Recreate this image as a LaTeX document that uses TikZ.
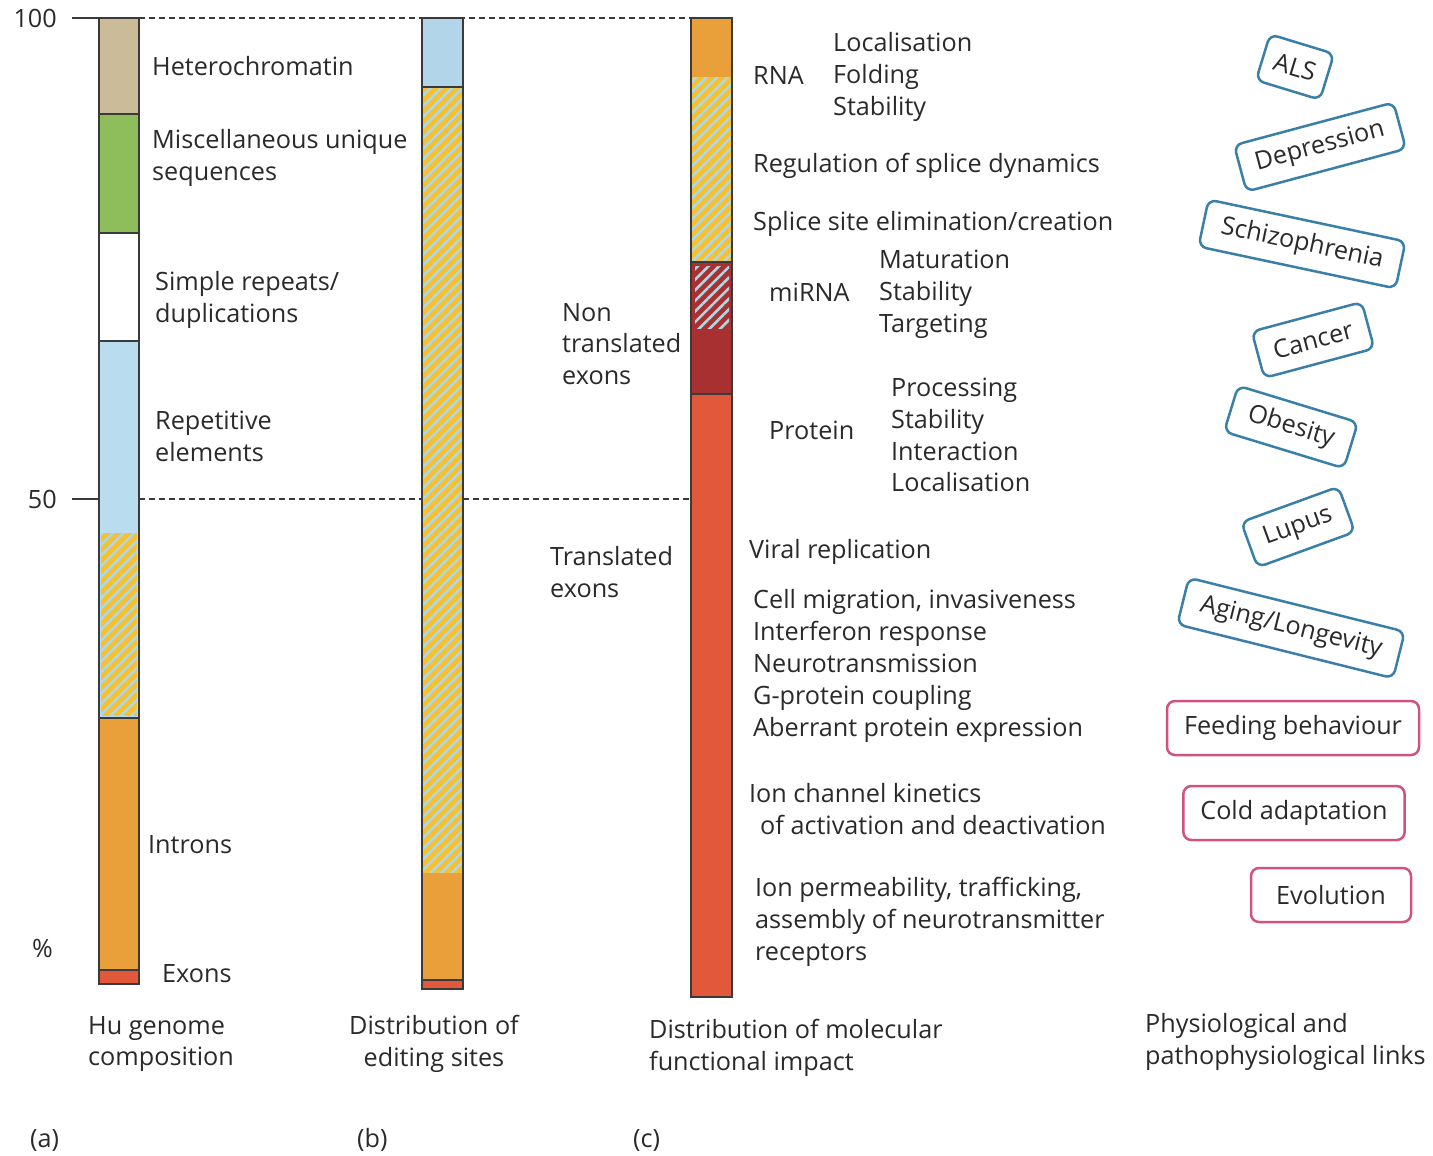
\documentclass[tikz,border=0pt]{standalone}
\usepackage{fontspec}
\setmainfont{Open Sans}
\usetikzlibrary{patterns.meta}
\definecolor{txt}{HTML}{2A2A2A}
\definecolor{outl}{HTML}{3A3A3A}
\definecolor{tan}{HTML}{CBBB98}
\definecolor{grn}{HTML}{8EBE5C}
\definecolor{lblue}{HTML}{B9DCEF}
\definecolor{bblue}{HTML}{B3D5EA}
\definecolor{hyel}{HTML}{F6C030}
\definecolor{hblue}{HTML}{ADD8E6}
\definecolor{orng}{HTML}{E9A03A}
\definecolor{rexon}{HTML}{E2583A}
\definecolor{dred}{HTML}{A83030}
\definecolor{tagblue}{HTML}{3A7FA8}
\definecolor{tagpink}{HTML}{D0537A}
\tikzset{
  lbl/.style={anchor=west, inner sep=0pt, text=txt, align=left,
    font=\fontsize{25.3}{32}\selectfont},
  hatchfill/.style={pattern={Lines[angle=45,distance=7.5bp,line width=2.6bp]}, pattern color=hblue},
  barline/.style={draw=outl, line width=2.2bp},
  divline/.style={draw=outl, line width=1.8bp},
  guide/.style={draw=outl, line width=1.5bp, dash pattern=on 6bp off 4bp},
  tick/.style={draw=outl, line width=1.8bp},
  tagb/.style={draw=tagblue, line width=2.5bp, rounded corners=8bp, text=txt,
    font=\fontsize{25.3}{28}\selectfont, minimum height=48bp, inner xsep=16bp, fill=white},
  tagp/.style={tagb, draw=tagpink, minimum height=54bp, inner xsep=17bp}
}
\begin{document}
\begin{tikzpicture}[x=1bp,y=-1bp]
\useasboundingbox[fill=white] (0,0) rectangle (1433,1155);

% ---------- guide lines ----------
\draw[tick] (72,18) -- (99,18);
\draw[tick] (72,499) -- (99,499);
\draw[guide] (139,18) -- (691,18);
\draw[guide] (139,499) -- (422,499);
\draw[guide] (463,499) -- (691,499);

% ---------- bar (a) ----------
\fill[tan] (99,18) rectangle (139,114);
\fill[grn] (99,114) rectangle (139,233);
\fill[white] (99,233) rectangle (139,341);
\fill[lblue] (99,341) rectangle (139,718);
\fill[hyel] (101,533) rectangle (137,716);
\fill[hatchfill] (101,533) rectangle (137,716);
\fill[orng] (99,718) rectangle (139,970);
\fill[rexon] (99,970) rectangle (139,984);
\draw[divline] (99,114) -- (139,114);
\draw[divline] (99,233) -- (139,233);
\draw[divline] (99,341) -- (139,341);
\draw[divline] (99,718) -- (139,718);
\draw[divline] (99,970) -- (139,970);
\draw[barline] (99,18) rectangle (139,984);

% ---------- bar (b) ----------
\fill[bblue] (422,18) rectangle (463,87);
\fill[hyel] (422,87) rectangle (463,873);
\fill[hatchfill] (422,87) rectangle (463,873);
\fill[orng] (422,873) rectangle (463,980);
\fill[rexon] (422,980) rectangle (463,989);
\draw[divline] (422,87) -- (463,87);
\draw[divline] (422,980) -- (463,980);
\draw[barline] (422,18) rectangle (463,989);

% ---------- bar (c) ----------
\fill[orng] (691,18) rectangle (732,77);
\fill[hyel] (691,77) rectangle (732,262);
\fill[hatchfill] (691,77) rectangle (732,262);
\fill[dred] (691,262) rectangle (732,394);
\fill[hatchfill] (695,266) rectangle (729,328);
\fill[rexon] (691,394) rectangle (732,997);
\draw[divline] (691,262) -- (732,262);
\draw[divline] (691,394) -- (732,394);
\draw[barline] (691,18) rectangle (732,997);

% ---------- axis labels ----------
\node[lbl, anchor=east] (y100) at (57,18) {100};
\node[lbl, anchor=east] (y50) at (57,499) {50};
\node[lbl] (pct) at (32,948) {\%};

% ---------- labels for (a) ----------
\node[lbl] (het) at (152,66) {Heterochromatin};
\node[lbl] (misc) at (152,158) {Miscellaneous unique\\sequences};
\node[lbl] (simple) at (155,300) {Simple repeats/\\duplications};
\node[lbl] (rep) at (155,436) {Repetitive\\elements};
\node[lbl] (intr) at (148,845) {Introns};
\node[lbl] (exo) at (162,974) {Exons};

% ---------- labels for (c) ----------
\node[lbl] (nontr) at (562,344) {Non\\translated\\exons};
\node[lbl] (tr) at (550,572) {Translated\\exons};
\node[lbl] (rna) at (753,75) {RNA};
\node[lbl] (rnaf) at (833,77) {Localisation\\Folding\\Stability};
\node[lbl] (splice) at (753,166) {Regulation of splice dynamics};
\node[lbl] (site) at (753,224) {Splice site elimination/creation};
\node[lbl] (mirna) at (769,292) {miRNA};
\node[lbl] (mirnaf) at (879,294) {Maturation\\Stability\\Targeting};
\node[lbl] (prot) at (769,430) {Protein};
\node[lbl] (protf) at (891,435) {Processing\\Stability\\Interaction\\Localisation};
\node[lbl] (viral) at (749,552) {Viral replication};
\node[lbl] (cell) at (753,666) {Cell migration, invasiveness\\Interferon response\\Neurotransmission\\G-protein coupling\\Aberrant protein expression};
\node[lbl] (ionk) at (749,809) {Ion channel kinetics\\\hspace*{11bp}of activation and deactivation};
\node[lbl] (ionp) at (755,922) {Ion permeability, trafficking,\\assembly of neurotransmitter\\receptors};

% ---------- tags ----------
\node[tagb, rotate=-17, inner xsep=12bp] (als) at (1295,67) {ALS};
\node[tagb, rotate=15] (dep) at (1320,147) {Depression};
\node[tagb, rotate=-12, inner xsep=18bp] (schiz) at (1302,244) {Schizophrenia};
\node[tagb, rotate=15] (canc) at (1313,340) {Cancer};
\node[tagb, rotate=-17, inner xsep=18bp] (obes) at (1291,427) {Obesity};
\node[tagb, rotate=20] (lup) at (1298,527) {Lupus};
\node[tagb, rotate=-14, inner xsep=18bp] (aging) at (1291,628) {Aging/Longevity};
\node[tagp] (feed) at (1293,728) {Feeding behaviour};
\node[tagp] (cold) at (1294,813) {Cold adaptation};
\node[tagp, minimum width=160bp] (evo) at (1331,895) {Evolution};

% ---------- captions ----------
\node[lbl] (capa) at (88,1044) {Hu genome\\composition};
\node[lbl, align=center, anchor=center] (capb) at (434,1044) {Distribution of\\editing sites};
\node[lbl] (capc) at (649,1048) {Distribution of molecular\\functional impact};
\node[lbl] (capd) at (1145,1042) {Physiological and\\pathophysiological links};
\node[lbl] (pa) at (30,1140) {(a)};
\node[lbl] (pb) at (357,1140) {(b)};
\node[lbl] (pc) at (633,1140) {(c)};
\end{tikzpicture}
\end{document}
